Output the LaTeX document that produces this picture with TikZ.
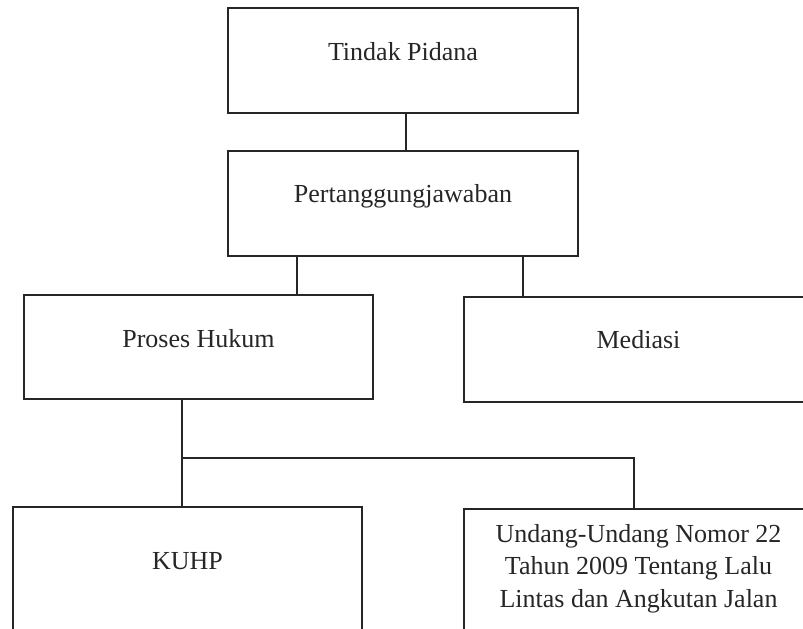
\documentclass[tikz,border=0pt]{standalone}
\usepackage{fontspec}
\setmainfont{Liberation Serif}
\usetikzlibrary{calc}

\def\boxwidth{349pt}
\def\boxheight{105pt}

\begin{document}
\begin{tikzpicture}[x=1pt, y=-1pt, line width=1.6pt, draw=black!85]
    \tikzstyle{box}=[rectangle, draw, minimum width=\boxwidth, minimum height=\boxheight,
        inner sep=0pt, text=black!85, font=\fontsize{26pt}{32.5pt}\selectfont,
        text height=18pt, text depth=18pt]
    \tikzstyle{link}=[draw, line width=1.6pt]

    \useasboundingbox (0,0) rectangle (803,629);

    \node[box, minimum width=350pt] (tindak) at (403,60.5) {Tindak Pidana};
    \node[box, minimum width=350pt, text depth=21pt] (pert) at (403,203.5) {Pertanggungjawaban};

    \node[box, minimum height=104pt] (proses) at (198.5,347) {Proses Hukum};
    \node[box, text depth=21pt] (mediasi) at (638.5,349.5) {Mediasi};

    \node[box, minimum height=133pt, text depth=27pt] (kuhp) at (187.5,573.5) {KUHP};
    \node[box, minimum height=131pt, align=center, text height=83pt] (undang) at (638.5,574.5)
        {Undang-Undang Nomor 22\\Tahun 2009 Tentang Lalu\\Lintas dan Angkutan Jalan};

    \path[link] ([xshift=3pt]tindak.south) -- ([xshift=3pt]pert.north);
    \path[link] ([xshift=-106pt]pert.south) -- ([xshift=-106pt]pert.south |- proses.north);
    \path[link] ([xshift=120pt]pert.south) -- ([xshift=120pt]pert.south |- mediasi.north);

    \coordinate (fork) at ([xshift=-16.5pt,yshift=-58pt]proses.south);
    \path[link] ([xshift=-16.5pt]proses.south) -- (fork |- kuhp.north);
    \path[link] (fork) -| ([xshift=-4.5pt]undang.north);
\end{tikzpicture}
\end{document}
